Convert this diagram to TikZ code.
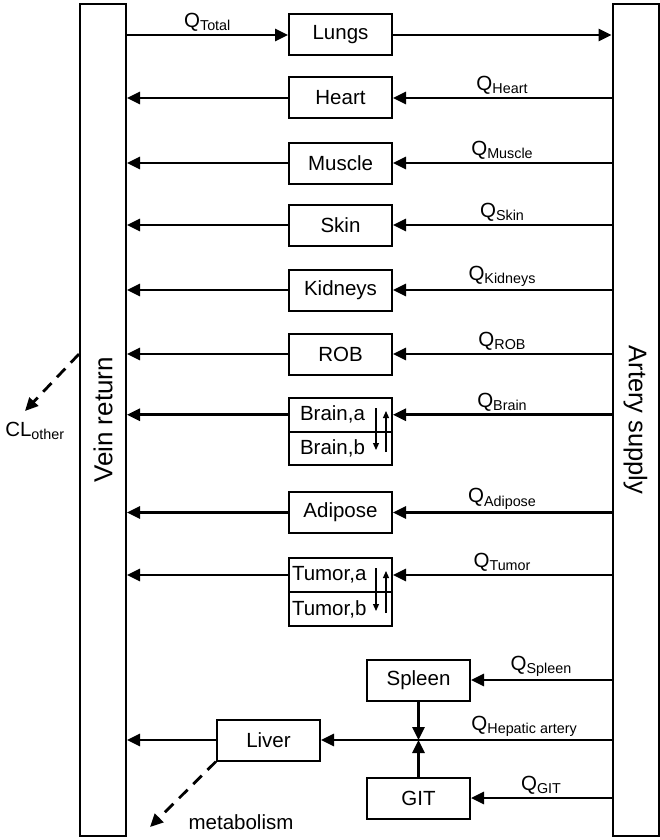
\documentclass[tikz,border=0pt]{standalone}
\usepackage{fontspec}
\setmainfont{Liberation Sans}
\usetikzlibrary{arrows.meta, positioning, calc}

\begin{document}
\begin{tikzpicture}[x=1pt, y=-1pt, font=\fontsize{20.5}{24}\selectfont,
    organ/.style={draw, line width=2pt, minimum width=103pt, minimum height=41pt, inner sep=0pt},
    half/.style={draw, line width=2pt, minimum height=#1, align=left, inner ysep=0pt},
    bar/.style={draw, line width=2pt, minimum width=46pt, minimum height=832pt},
    flow/.style={line width=2.8pt, -{Triangle[length=13pt,width=12pt]}},
    exch/.style={line width=1.2pt, -{Triangle[length=7pt,width=6pt]}},
    loss/.style={line width=2.8pt, dash pattern=on 12pt off 8pt, -{Triangle[length=13pt,width=12pt]}},
    qlab/.style={above=1pt, inner sep=1pt}]
        \useasboundingbox (0,0) rectangle (660,840);

        % Vein and artery
        \node[bar] (vein) at (103,420) {};
        \node[bar] (artery) at (635.5,420) {};
        \node[rotate=90, font=\fontsize{26}{30}\selectfont] (veintext) at (vein.center) {Vein return};
        \node[rotate=-90, font=\fontsize{25.5}{30}\selectfont] (arterytext) at (artery.center) {Artery supply};

        % Organs
        \node[organ] (lungs) at (340.5,35) {Lungs};
        \node[organ] (heart) at (340.5,98) {Heart};
        \node[organ] (muscle) at (340.5,163) {Muscle};
        \node[organ] (skin) at (340.5,225) {Skin};
        \node[organ] (kidneys) at (340.5,290) {Kidneys};
        \node[organ] (rob) at (340.5,354) {ROB};
        \node[half=33.5pt, inner xsep=11pt, text width=81pt] (braina) at (340.5,414.75) {Brain,a};
        \node[half=33.5pt, inner xsep=11pt, text width=81pt] (brainb) at (340.5,448.25) {Brain,b};
        \node[organ] (adipose) at (340.5,512.5) {Adipose};
        \node[half=34pt, inner xsep=3pt, text width=97pt] (tumora) at (340.5,575) {Tumor,a};
        \node[half=34pt, inner xsep=3pt, text width=97pt] (tumorb) at (340.5,609) {Tumor,b};
        \node[organ] (spleen) at (418.5,680) {Spleen};
        \node[organ] (liver) at (268.5,740) {Liver};
        \node[organ] (git) at (418.5,798) {GIT};

        % Exchange inside brain and tumor
        \draw[exch] ($(braina.north east)+(-17,11)$) -- ($(brainb.south east)+(-17,-16)$);
        \draw[exch] ($(brainb.south east)+(-7,-14)$) -- ($(braina.north east)+(-7,14)$);
        \draw[exch] ($(tumora.north east)+(-17,11)$) -- ($(tumorb.south east)+(-17,-16)$);
        \draw[exch] ($(tumorb.south east)+(-7,-14)$) -- ($(tumora.north east)+(-7,14)$);

        % Lungs
        \draw[flow] (lungs -| vein.east) -- node[qlab, midway] (qtotal) {Q\textsubscript{Total}} (lungs.west);
        \draw[flow] (lungs.east) -- (lungs -| artery.west);

        % Arterial inflow
        \draw[flow] (heart -| artery.west) -- node[qlab, midway] (qheart) {Q\textsubscript{Heart}} (heart.east);
        \draw[flow] (muscle -| artery.west) -- node[qlab, midway] (qmuscle) {Q\textsubscript{Muscle}} (muscle.east);
        \draw[flow] (skin -| artery.west) -- node[qlab, midway] (qskin) {Q\textsubscript{Skin}} (skin.east);
        \draw[flow] (kidneys -| artery.west) -- node[qlab, midway] (qkidneys) {Q\textsubscript{Kidneys}} (kidneys.east);
        \draw[flow] (rob -| artery.west) -- node[qlab, midway] (qrob) {Q\textsubscript{ROB}} (rob.east);
        \draw[flow] (braina -| artery.west) -- node[qlab, midway] (qbrain) {Q\textsubscript{Brain}} (braina.east);
        \draw[flow] (adipose -| artery.west) -- node[qlab, midway] (qadipose) {Q\textsubscript{Adipose}} (adipose.east);
        \draw[flow] (tumora -| artery.west) -- node[qlab, midway] (qtumor) {Q\textsubscript{Tumor}} (tumora.east);
        \draw[flow] (spleen -| artery.west) -- node[qlab, midway] (qspleen) {Q\textsubscript{Spleen}} (spleen.east);
        \draw[flow] (liver -| artery.west) -- node[qlab, pos=0.3] (qhepatic) {Q\textsubscript{Hepatic artery}} (liver.east);
        \draw[flow] (git -| artery.west) -- node[qlab, midway] (qgit) {Q\textsubscript{GIT}} (git.east);

        % Portal flow
        \coordinate (portal) at (spleen.south |- liver);
        \draw[flow] (spleen.south) -- (portal);
        \draw[flow] (git.north) -- (portal);

        % Venous outflow
        \draw[flow] (heart.west) -- (heart -| vein.east);
        \draw[flow] (muscle.west) -- (muscle -| vein.east);
        \draw[flow] (skin.west) -- (skin -| vein.east);
        \draw[flow] (kidneys.west) -- (kidneys -| vein.east);
        \draw[flow] (rob.west) -- (rob -| vein.east);
        \draw[flow] (braina.west) -- (braina -| vein.east);
        \draw[flow] (adipose.west) -- (adipose -| vein.east);
        \draw[flow] (tumora.west) -- (tumora -| vein.east);
        \draw[flow] (liver.west) -- (liver -| vein.east);

        % Elimination
        \coordinate (metaend) at (150,827);
        \draw[loss] (liver.south west) -- (metaend);
        \node (metabolism) at (241,822) {metabolism};
        \coordinate (clstart) at (vein.west |- rob);
        \coordinate (clend) at (25,411);
        \draw[loss] (clstart) -- (clend);
        \node (clother) at (35,431) {CL\textsubscript{other}};
\end{tikzpicture}
\end{document}
